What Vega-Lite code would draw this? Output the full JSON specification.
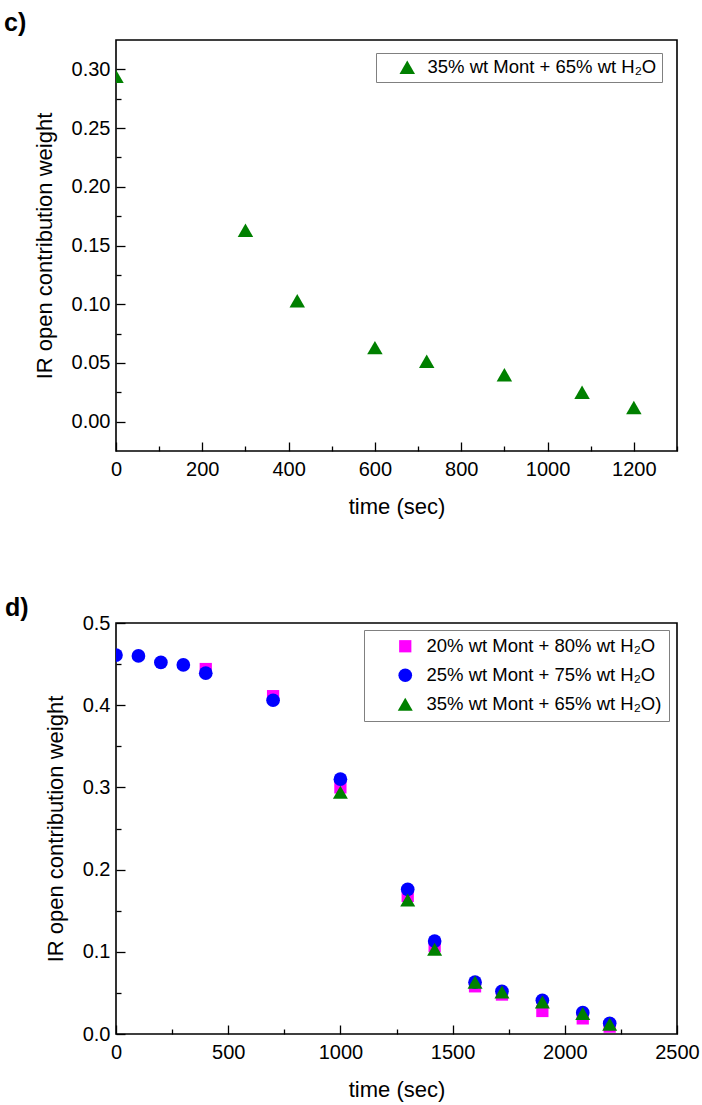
{
  "$schema": "https://vega.github.io/schema/vega-lite/v6.json",
  "autosize": {"type": "none"},
  "padding": {"left": 116, "top": 40, "right": 586, "bottom": 1065},
  "background": "white",
  "config": {
    "font": "Liberation Sans",
    "view": {"stroke": "black", "strokeWidth": 1.6},
    "axis": {"domain": false, "grid": false, "tickColor": "black", "tickWidth": 1.3, "labelColor": "black", "titleColor": "black", "labelFontSize": 20, "titleFontSize": 22, "titleFontWeight": "normal", "labelFlush": false, "labelOverlap": false, "labelBound": false, "labelFont": "Liberation Sans", "titleFont": "Liberation Sans"}
  },
  "spacing": 172,
  "bounds": "flush",
  "resolve": {"scale": {"x": "independent", "y": "independent", "color": "independent", "shape": "independent", "size": "independent"}, "legend": {"color": "independent", "shape": "independent"}},
  "vconcat": [
    {
      "width": 561,
      "height": 411,
      "title": {"text": "c)", "anchor": "start", "frame": "group", "dx": -112, "dy": 29, "offset": 13, "baseline": "alphabetic", "fontSize": 25, "fontWeight": "bold", "font": "Liberation Sans", "color": "black"},
      "data": {"values": [
        {"time": 0, "weight": 0.294, "series": "35% wt Mont + 65% wt H₂O"},
        {"time": 300, "weight": 0.163, "series": "35% wt Mont + 65% wt H₂O"},
        {"time": 420, "weight": 0.103, "series": "35% wt Mont + 65% wt H₂O"},
        {"time": 600, "weight": 0.063, "series": "35% wt Mont + 65% wt H₂O"},
        {"time": 720, "weight": 0.0515, "series": "35% wt Mont + 65% wt H₂O"},
        {"time": 900, "weight": 0.040, "series": "35% wt Mont + 65% wt H₂O"},
        {"time": 1080, "weight": 0.025, "series": "35% wt Mont + 65% wt H₂O"},
        {"time": 1200, "weight": 0.012, "series": "35% wt Mont + 65% wt H₂O"}
      ]},
      "mark": {"type": "point", "filled": true, "opacity": 1, "size": 240, "clip": true},
      "encoding": {
        "x": {"field": "time", "type": "quantitative", "scale": {"domain": [0, 1300], "nice": false, "zero": false},
          "axis": {"title": "time (sec)", "values": [0, 100, 200, 300, 400, 500, 600, 700, 800, 900, 1000, 1100, 1200, 1300], "format": "d",
            "labelExpr": "datum.value % 200 === 0 ? datum.label : ''",
            "tickSize": {"condition": {"test": "datum.value % 200 === 0", "value": -9}, "value": -5},
            "labelPadding": 17, "titlePadding": 13}},
        "y": {"field": "weight", "type": "quantitative", "scale": {"domain": [-0.025, 0.325], "nice": false, "zero": false},
          "axis": {"title": "IR open contribution weight", "values": [0, 0.025, 0.05, 0.075, 0.1, 0.125, 0.15, 0.175, 0.2, 0.225, 0.25, 0.275, 0.3], "format": ".2f",
            "labelExpr": "round(datum.value * 1000) % 50 === 0 ? datum.label : ''",
            "tickSize": {"condition": {"test": "round(datum.value * 1000) % 50 === 0", "value": -9}, "value": -5},
            "labelPadding": 15, "titlePadding": 15}},
        "color": {"field": "series", "type": "nominal", "scale": {"domain": ["35% wt Mont + 65% wt H₂O"], "range": ["#008000"]},
          "legend": {"title": null, "orient": "none", "legendX": 260, "legendY": 13, "direction": "vertical", "strokeColor": "#808080", "fillColor": "white", "padding": 5, "symbolOffset": 17, "labelOffset": 11, "labelFontSize": 18.5, "labelColor": "black", "labelLimit": 400, "symbolSize": 240, "symbolStrokeWidth": 0}},
        "shape": {"field": "series", "type": "nominal", "scale": {"domain": ["35% wt Mont + 65% wt H₂O"], "range": ["triangle-up"]},
          "legend": {"title": null, "orient": "none", "legendX": 260, "legendY": 13, "direction": "vertical", "strokeColor": "#808080", "fillColor": "white", "padding": 5, "symbolOffset": 17, "labelOffset": 11, "labelFontSize": 18.5, "labelColor": "black", "labelLimit": 400, "symbolSize": 240, "symbolStrokeWidth": 0}}
      }
    },
    {
      "width": 561,
      "height": 411,
      "title": {"text": "d)", "anchor": "start", "frame": "group", "dx": -111, "dy": 38, "offset": 10, "baseline": "alphabetic", "fontSize": 25, "fontWeight": "bold", "font": "Liberation Sans", "color": "black"},
      "data": {"values": [
        {"time": 400, "weight": 0.444, "series": "20% wt Mont + 80% wt H₂O"},
        {"time": 700, "weight": 0.411, "series": "20% wt Mont + 80% wt H₂O"},
        {"time": 1000, "weight": 0.300, "series": "20% wt Mont + 80% wt H₂O"},
        {"time": 1300, "weight": 0.168, "series": "20% wt Mont + 80% wt H₂O"},
        {"time": 1420, "weight": 0.107, "series": "20% wt Mont + 80% wt H₂O"},
        {"time": 1600, "weight": 0.058, "series": "20% wt Mont + 80% wt H₂O"},
        {"time": 1720, "weight": 0.048, "series": "20% wt Mont + 80% wt H₂O"},
        {"time": 1900, "weight": 0.028, "series": "20% wt Mont + 80% wt H₂O"},
        {"time": 2080, "weight": 0.019, "series": "20% wt Mont + 80% wt H₂O"},
        {"time": 2200, "weight": 0.009, "series": "20% wt Mont + 80% wt H₂O"},
        {"time": 0, "weight": 0.461, "series": "25% wt Mont + 75% wt H₂O"},
        {"time": 100, "weight": 0.460, "series": "25% wt Mont + 75% wt H₂O"},
        {"time": 200, "weight": 0.452, "series": "25% wt Mont + 75% wt H₂O"},
        {"time": 300, "weight": 0.449, "series": "25% wt Mont + 75% wt H₂O"},
        {"time": 400, "weight": 0.439, "series": "25% wt Mont + 75% wt H₂O"},
        {"time": 700, "weight": 0.406, "series": "25% wt Mont + 75% wt H₂O"},
        {"time": 1000, "weight": 0.310, "series": "25% wt Mont + 75% wt H₂O"},
        {"time": 1300, "weight": 0.176, "series": "25% wt Mont + 75% wt H₂O"},
        {"time": 1420, "weight": 0.113, "series": "25% wt Mont + 75% wt H₂O"},
        {"time": 1600, "weight": 0.063, "series": "25% wt Mont + 75% wt H₂O"},
        {"time": 1720, "weight": 0.052, "series": "25% wt Mont + 75% wt H₂O"},
        {"time": 1900, "weight": 0.041, "series": "25% wt Mont + 75% wt H₂O"},
        {"time": 2080, "weight": 0.026, "series": "25% wt Mont + 75% wt H₂O"},
        {"time": 2200, "weight": 0.013, "series": "25% wt Mont + 75% wt H₂O"},
        {"time": 1000, "weight": 0.294, "series": "35% wt Mont + 65% wt H₂O)"},
        {"time": 1300, "weight": 0.163, "series": "35% wt Mont + 65% wt H₂O)"},
        {"time": 1420, "weight": 0.103, "series": "35% wt Mont + 65% wt H₂O)"},
        {"time": 1600, "weight": 0.063, "series": "35% wt Mont + 65% wt H₂O)"},
        {"time": 1720, "weight": 0.051, "series": "35% wt Mont + 65% wt H₂O)"},
        {"time": 1900, "weight": 0.039, "series": "35% wt Mont + 65% wt H₂O)"},
        {"time": 2080, "weight": 0.025, "series": "35% wt Mont + 65% wt H₂O)"},
        {"time": 2200, "weight": 0.012, "series": "35% wt Mont + 65% wt H₂O)"}
      ]},
      "mark": {"type": "point", "filled": true, "opacity": 1, "clip": true},
      "encoding": {
        "x": {"field": "time", "type": "quantitative", "scale": {"domain": [0, 2500], "nice": false, "zero": false},
          "axis": {"title": "time (sec)", "values": [0, 250, 500, 750, 1000, 1250, 1500, 1750, 2000, 2250, 2500], "format": "d",
            "labelExpr": "datum.value % 500 === 0 ? datum.label : ''",
            "tickSize": {"condition": {"test": "datum.value % 500 === 0", "value": -9}, "value": -5},
            "labelPadding": 17, "titlePadding": 13}},
        "y": {"field": "weight", "type": "quantitative", "scale": {"domain": [0, 0.5], "nice": false, "zero": false},
          "axis": {"title": "IR open contribution weight", "values": [0, 0.05, 0.1, 0.15, 0.2, 0.25, 0.3, 0.35, 0.4, 0.45, 0.5], "format": ".1f",
            "labelExpr": "round(datum.value * 100) % 10 === 0 ? datum.label : ''",
            "tickSize": {"condition": {"test": "round(datum.value * 100) % 10 === 0", "value": -9}, "value": -5},
            "labelPadding": 15, "titlePadding": 15}},
        "color": {"field": "series", "type": "nominal", "scale": {"domain": ["20% wt Mont + 80% wt H₂O", "25% wt Mont + 75% wt H₂O", "35% wt Mont + 65% wt H₂O)"], "range": ["#ff00ff", "#0000ff", "#008000"]},
          "legend": {"title": null, "orient": "none", "legendX": 248, "legendY": 7, "direction": "vertical", "strokeColor": "#808080", "fillColor": "white", "padding": 7, "symbolOffset": 25, "labelOffset": 12, "labelFontSize": 18.5, "labelColor": "black", "labelLimit": 400, "rowPadding": 10, "symbolSize": 220, "symbolStrokeWidth": 0}},
        "shape": {"field": "series", "type": "nominal", "scale": {"domain": ["20% wt Mont + 80% wt H₂O", "25% wt Mont + 75% wt H₂O", "35% wt Mont + 65% wt H₂O)"], "range": ["square", "circle", "triangle-up"]},
          "legend": {"title": null, "orient": "none", "legendX": 248, "legendY": 7, "direction": "vertical", "strokeColor": "#808080", "fillColor": "white", "padding": 7, "symbolOffset": 25, "labelOffset": 12, "labelFontSize": 18.5, "labelColor": "black", "labelLimit": 400, "rowPadding": 10, "symbolSize": 220, "symbolStrokeWidth": 0}},
        "size": {"field": "series", "type": "nominal", "scale": {"domain": ["20% wt Mont + 80% wt H₂O", "25% wt Mont + 75% wt H₂O", "35% wt Mont + 65% wt H₂O)"], "range": [150, 225, 240]}, "legend": null}
      }
    }
  ]
}
